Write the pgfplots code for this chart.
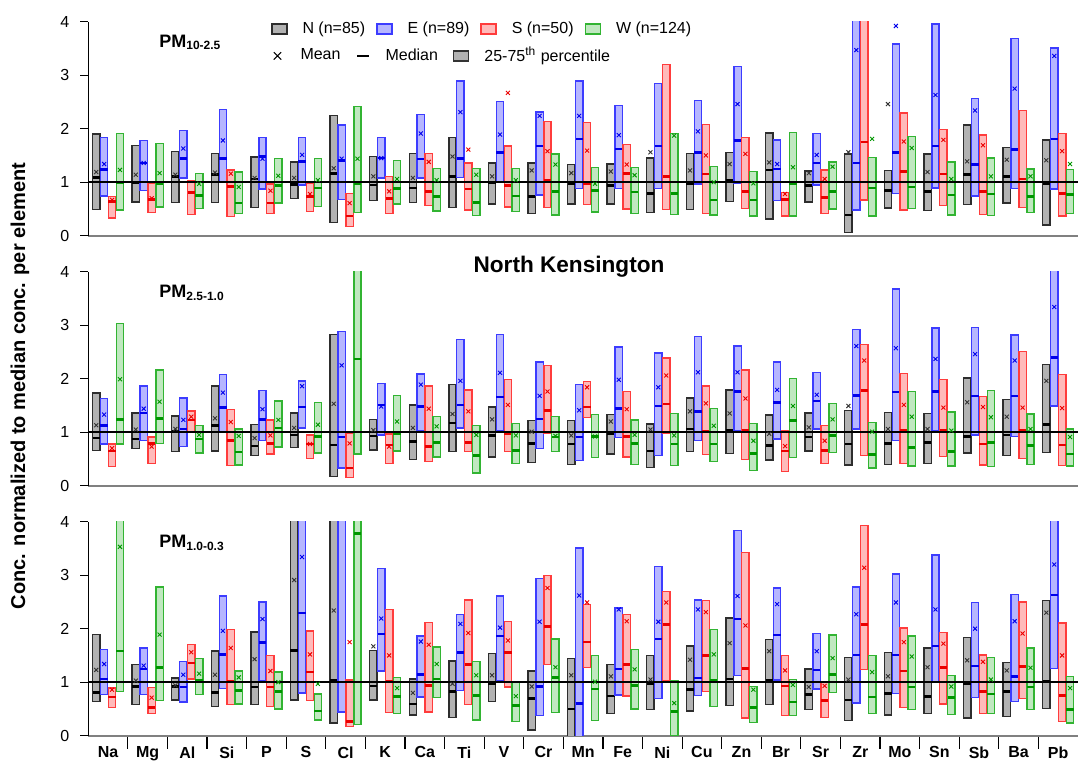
\documentclass[border=0pt]{standalone}
\usepackage{pgfplots}
\pgfplotsset{compat=1.18}
\usepackage{pgfplotstable}
\usepgfplotslibrary{statistics}
\usepackage{fontspec}
\setmainfont{Liberation Sans}
\setsansfont{Liberation Sans}

\definecolor{Nfill}{RGB}{178,178,178}
\definecolor{Nline}{RGB}{45,45,45}
\definecolor{Nmed}{RGB}{0,0,0}
\definecolor{Efill}{RGB}{182,182,255}
\definecolor{Eline}{RGB}{60,60,255}
\definecolor{Emed}{RGB}{0,0,235}
\definecolor{Sfill}{RGB}{255,186,186}
\definecolor{Sline}{RGB}{255,60,60}
\definecolor{Smed}{RGB}{235,0,0}
\definecolor{Wfill}{RGB}{192,232,192}
\definecolor{Wline}{RGB}{50,180,50}
\definecolor{Wmed}{RGB}{0,150,0}

% ---------- PM10-2.5 ----------
\pgfplotstableread{
i q1 q3 med mean
0 0.49 1.90 1.09 1.19
1 0.63 1.69 1.00 1.14
2 0.62 1.57 1.11 1.14
3 0.62 1.54 1.14 1.18
4 0.53 1.47 1.06 1.08
5 0.70 1.38 0.96 1.08
6 0.25 2.25 1.16 1.26
7 0.66 1.48 0.95 1.11
8 0.62 1.54 0.89 1.08
9 0.53 1.84 1.11 1.48
10 0.59 1.36 1.00 1.11
11 0.42 1.36 0.73 1.22
12 0.59 1.33 0.97 1.17
13 0.59 1.34 0.94 1.20
14 0.43 1.45 0.79 1.56
15 0.49 1.54 0.98 1.22
16 0.64 1.56 1.04 1.34
17 0.31 1.92 1.23 1.37
18 0.63 1.21 0.94 1.17
19 0.06 1.53 0.39 1.56
20 0.52 1.22 0.84 2.46
21 0.47 1.53 0.83 1.19
22 0.58 2.07 1.14 1.39
23 0.61 1.65 1.11 1.42
24 0.20 1.79 0.98 1.41
}\tAN
\pgfplotstableread{
i q1 q3 med mean
0 0.74 1.83 1.24 1.34
1 0.85 1.78 1.36 1.36
2 1.08 1.97 1.44 1.63
3 1.00 2.36 1.44 1.78
4 0.87 1.84 1.48 1.44
5 0.95 1.84 1.39 1.51
6 0.68 2.07 1.41 1.44
7 1.08 1.83 1.45 1.45
8 1.08 2.26 1.43 1.91
9 1.09 2.89 1.44 2.31
10 1.00 2.51 1.56 1.89
11 0.76 2.31 1.68 2.24
12 0.88 2.89 1.81 2.24
13 0.88 2.43 1.62 1.88
14 0.88 2.85 1.68 nan
15 0.97 2.53 1.56 1.95
16 0.98 3.16 1.78 2.46
17 0.66 1.79 1.25 1.34
18 0.95 1.91 1.36 1.51
19 0.48 4.20 1.36 3.47
20 0.79 3.58 1.56 3.92
21 0.89 3.96 1.68 2.63
22 0.74 2.56 1.33 2.34
23 0.88 3.69 1.61 2.75
24 0.87 3.51 1.81 3.36
}\tAE
\pgfplotstableread{
i q1 q3 med mean
0 0.33 0.73 0.64 0.67
1 0.43 0.98 0.68 0.70
2 0.40 1.03 0.81 nan
3 0.36 1.23 0.92 1.16
4 0.41 0.97 0.61 0.84
5 0.45 0.98 0.73 0.78
6 0.17 0.79 0.37 0.61
7 0.41 1.11 0.69 0.83
8 0.56 1.54 0.83 1.38
9 0.48 1.36 0.87 1.61
10 0.54 1.68 0.94 2.67
11 0.53 2.13 1.04 1.58
12 0.58 2.12 0.97 1.59
13 0.50 1.71 1.16 1.33
14 0.49 3.20 1.11 nan
15 0.41 2.08 1.15 1.50
16 0.51 1.83 0.83 1.53
17 0.37 0.81 0.68 0.78
18 0.41 1.23 0.71 1.06
19 0.67 4.20 1.75 nan
20 0.48 2.29 1.20 1.76
21 0.56 1.99 1.15 1.79
22 0.40 1.88 0.83 1.69
23 0.53 2.34 1.06 nan
24 0.37 1.91 0.79 1.58
}\tAS
\pgfplotstableread{
i q1 q3 med mean
0 0.48 1.91 1.00 1.23
1 0.54 1.72 0.97 1.17
2 0.51 1.16 0.75 0.97
3 0.41 1.19 0.61 0.91
4 0.61 1.44 0.94 1.12
5 0.55 1.44 0.89 1.04
6 0.43 2.42 0.98 1.44
7 0.59 1.41 0.88 1.06
8 0.46 1.26 0.73 1.04
9 0.38 1.26 0.62 1.14
10 0.45 1.26 0.74 1.04
11 0.39 1.53 0.83 1.33
12 0.44 1.28 0.84 0.97
13 0.42 1.28 0.82 1.13
14 0.40 1.91 0.79 1.87
15 0.39 1.29 0.67 1.00
16 0.37 1.20 0.67 0.98
17 0.37 1.93 0.97 1.28
18 0.50 1.38 0.83 1.29
19 0.37 1.46 0.89 1.81
20 0.51 1.85 0.91 1.64
21 0.39 1.38 0.76 1.06
22 0.38 1.45 0.78 1.11
23 0.43 1.25 0.73 1.11
24 0.41 1.24 0.77 1.34
}\tAW

% ---------- PM2.5-1.0 ----------
\pgfplotstableread{
i q1 q3 med mean
0 0.66 1.73 0.89 1.13
1 0.69 1.36 0.87 1.05
2 0.64 1.30 1.01 1.06
3 0.65 1.86 1.13 1.26
4 0.56 1.14 0.74 0.89
5 0.71 1.36 0.95 1.08
6 0.17 2.83 0.76 1.53
7 0.67 1.24 0.93 1.04
8 0.49 1.51 0.83 1.08
9 0.64 1.89 1.17 1.34
10 0.54 1.47 0.94 1.24
11 0.43 1.22 0.79 1.01
12 0.40 1.22 0.78 0.94
13 0.59 1.33 0.97 1.20
14 0.34 1.15 0.65 1.05
15 0.64 1.64 1.06 1.39
16 0.60 1.79 1.03 1.35
17 0.48 1.32 0.75 0.97
18 0.65 1.36 0.91 1.09
19 0.39 1.41 0.78 1.49
20 0.40 1.37 0.79 1.06
21 0.41 1.35 0.81 1.06
22 0.61 2.01 0.92 1.56
23 0.56 1.61 0.95 1.29
24 0.62 2.27 1.14 1.96
}\tBN
\pgfplotstableread{
i q1 q3 med mean
0 0.78 1.63 1.13 1.33
1 0.84 1.86 1.36 1.44
2 0.73 1.64 1.06 1.23
3 1.01 2.08 1.46 1.74
4 0.84 1.78 1.24 1.43
5 1.08 1.96 1.47 1.86
6 0.33 2.88 0.91 2.25
7 0.95 1.91 1.51 1.48
8 1.03 2.09 1.48 1.89
9 1.08 2.73 1.51 1.96
10 1.03 2.83 1.66 2.11
11 0.70 2.31 1.25 1.68
12 0.47 1.89 0.91 1.41
13 0.90 2.59 1.44 1.98
14 0.56 2.48 1.49 1.84
15 0.84 2.79 1.39 2.12
16 1.03 2.61 1.76 2.12
17 0.87 2.31 1.56 1.79
18 1.06 2.12 1.58 1.70
19 1.06 2.92 1.69 2.61
20 0.85 3.68 1.75 2.57
21 1.03 2.95 1.76 2.37
22 0.95 2.96 1.68 2.46
23 0.92 2.82 1.68 2.34
24 1.49 4.20 2.40 3.34
}\tBE
\pgfplotstableread{
i q1 q3 med mean
0 0.36 0.78 0.65 0.70
1 0.41 0.91 0.79 0.73
2 1.01 1.40 1.23 1.29
3 0.38 1.42 0.84 1.19
4 0.59 1.23 0.79 0.94
5 0.51 0.95 0.78 0.78
6 0.15 0.98 0.33 0.79
7 0.41 0.97 0.76 0.73
8 0.45 1.86 0.73 1.44
9 0.64 1.79 0.81 1.39
10 0.64 1.99 0.98 1.51
11 0.98 2.25 1.41 1.76
12 1.28 1.95 1.47 1.84
13 0.54 1.76 0.92 1.43
14 0.98 2.39 1.53 2.06
15 0.58 1.86 1.01 1.54
16 0.49 2.16 1.04 1.63
17 0.26 1.03 0.65 0.74
18 0.41 1.12 0.66 0.84
19 0.56 2.64 1.78 2.34
20 0.42 2.10 1.04 1.51
21 0.55 1.99 1.04 1.46
22 0.39 1.67 0.78 1.47
23 0.51 2.51 1.04 1.46
24 0.38 2.08 0.76 1.45
}\tBS
\pgfplotstableread{
i q1 q3 med mean
0 0.78 3.03 1.24 1.99
1 0.79 2.16 1.26 1.57
2 0.61 1.13 0.87 0.95
3 0.39 1.06 0.63 0.93
4 0.72 1.58 1.08 1.23
5 0.61 1.56 0.92 1.14
6 0.59 4.20 2.37 nan
7 0.65 1.69 0.98 1.20
8 0.54 1.29 0.81 1.11
9 0.24 1.13 0.56 0.95
10 0.41 1.16 0.66 0.94
11 0.64 1.29 0.91 0.93
12 0.53 1.33 0.92 0.92
13 0.40 1.23 0.79 0.95
14 0.38 1.35 0.78 0.94
15 0.45 1.44 0.78 1.12
16 0.28 1.16 0.60 0.84
17 0.53 2.00 1.22 1.49
18 0.62 1.54 0.94 1.24
19 0.33 1.18 0.58 1.01
20 0.37 1.76 0.71 1.29
21 0.37 1.38 0.64 1.03
22 0.36 1.78 0.81 1.28
23 0.40 1.34 0.75 1.06
24 0.37 1.06 0.59 0.91
}\tBW

% ---------- PM1.0-0.3 ----------
\pgfplotstableread{
i q1 q3 med mean
0 0.64 1.89 0.81 1.23
1 0.58 1.33 0.92 1.03
2 0.67 1.08 0.92 0.94
3 0.55 1.58 0.81 1.14
4 0.58 1.94 0.91 1.43
5 0.67 4.20 1.59 2.91
6 0.24 4.20 1.03 2.34
7 0.67 1.59 0.93 1.67
8 0.39 1.06 0.59 0.80
9 0.34 1.40 0.83 0.97
10 0.64 1.54 0.97 1.13
11 0.11 1.21 0.70 0.92
12 -0.10 1.44 0.50 1.13
13 0.41 1.33 0.74 1.11
14 0.49 1.50 0.97 1.05
15 0.46 1.68 0.86 1.42
16 0.56 2.20 1.06 1.73
17 0.58 1.80 1.03 1.58
18 0.49 1.25 0.77 0.91
19 0.28 1.46 0.67 1.05
20 0.39 1.55 0.79 1.11
21 0.42 1.64 0.73 1.28
22 0.33 1.84 0.97 1.41
23 0.36 1.37 0.83 1.22
24 0.51 2.53 1.02 2.30
}\tCN
\pgfplotstableread{
i q1 q3 med mean
0 0.77 1.61 1.06 1.34
1 0.77 1.64 1.25 1.31
2 0.63 1.39 0.91 1.14
3 0.88 2.61 1.52 1.96
4 1.02 2.50 1.74 2.18
5 0.80 4.20 2.29 3.34
6 0.44 4.50 4.30 nan
7 1.21 3.13 1.90 2.19
8 0.72 1.86 1.14 1.76
9 0.84 2.27 1.56 2.09
10 1.02 2.61 1.86 2.02
11 0.38 2.94 0.92 2.13
12 -0.10 3.51 0.60 2.62
13 0.76 2.39 1.25 2.36
14 0.70 3.16 1.81 2.13
15 0.75 2.54 1.08 2.36
16 1.13 3.84 2.18 2.61
17 1.04 2.76 1.88 2.46
18 0.87 1.91 1.23 1.58
19 0.61 2.78 1.51 2.27
20 0.79 3.02 1.51 2.49
21 1.00 3.38 1.68 2.36
22 0.71 2.49 1.30 2.00
23 0.64 2.64 1.11 2.14
24 1.26 4.20 2.63 3.20
}\tCE
\pgfplotstableread{
i q1 q3 med mean
0 0.53 0.89 0.72 0.86
1 0.42 0.90 0.53 0.71
2 1.06 1.70 1.36 1.56
3 0.58 1.98 1.02 1.64
4 0.55 1.50 0.91 1.21
5 0.66 1.96 1.19 1.52
6 0.17 1.04 0.26 1.75
7 0.43 2.36 1.02 1.50
8 0.44 2.12 0.94 1.70
9 0.58 2.54 1.33 1.92
10 0.91 2.14 1.56 1.78
11 1.33 3.00 2.04 2.76
12 1.27 2.45 1.75 2.49
13 0.74 2.27 1.33 2.14
14 1.03 2.70 2.08 2.49
15 0.83 2.53 1.50 2.31
16 0.33 3.43 1.26 2.06
17 0.38 1.50 0.93 1.22
18 0.34 1.00 0.66 0.93
19 1.24 3.93 2.08 3.14
20 0.53 2.01 1.21 1.75
21 0.59 1.93 1.27 1.72
22 0.41 1.51 0.83 1.38
23 0.69 2.50 1.29 1.91
24 0.26 2.11 0.75 1.50
}\tCS
\pgfplotstableread{
i q1 q3 med mean
0 0.83 4.20 1.58 3.53
1 0.66 2.78 1.28 1.89
2 0.77 1.44 1.03 1.16
3 0.59 1.21 0.84 1.09
4 0.50 1.19 0.83 1.00
5 0.29 0.78 0.46 0.97
6 0.21 4.20 3.78 nan
7 0.41 1.09 0.73 0.89
8 0.71 1.66 1.06 1.34
9 0.29 1.39 0.75 1.13
10 0.27 1.00 0.56 0.74
11 0.43 1.81 1.09 1.28
12 0.28 1.50 0.87 1.01
13 0.50 1.61 0.94 1.24
14 0.00 1.02 0.45 0.61
15 0.55 1.98 1.03 1.52
16 0.25 0.92 0.53 0.86
17 0.38 1.05 0.63 0.95
18 0.81 1.88 1.14 1.45
19 0.41 1.50 0.72 1.19
20 0.49 1.86 0.91 1.48
21 0.40 1.13 0.71 0.92
22 0.41 1.46 0.78 1.05
23 0.49 1.64 0.91 1.27
24 0.24 1.11 0.49 0.89
}\tCW

\pgfplotsset{
  bxbase/.style={line width=0.7pt, boxplot/draw direction=y, boxplot/box extend=0.185, boxplot/whisker extend=0},
  bxN/.style={bxbase, draw=Nline, fill=Nfill, boxplot/every median/.style={draw=Nmed, line width=1.3pt}},
  bxE/.style={bxbase, draw=Eline, fill=Efill, boxplot/every median/.style={draw=Emed, line width=1.3pt}},
  bxS/.style={bxbase, draw=Sline, fill=Sfill, boxplot/every median/.style={draw=Smed, line width=1.3pt}},
  bxW/.style={bxbase, draw=Wline, fill=Wfill, boxplot/every median/.style={draw=Wmed, line width=1.3pt}},
  mk/.style={only marks, mark=x, mark size=1.4pt, mark options={line width=0.45pt}},
  panel/.style={
    scale only axis, width=494.85pt, height=107pt,
    xmin=-0.5, xmax=24.5, ymin=0, ymax=4,
    axis x line*=bottom, axis y line*=left,
    x axis line style={draw=black!50, line width=1pt},
    y axis line style={draw=black, line width=0.6pt},
    ytick={0,1,2,3,4}, xtick=\empty,
    tick align=outside, major tick length=4pt, minor tick length=6.5pt,
    tick style={black, line width=0.6pt},
    yticklabel style={font=\fontsize{8}{9}\selectfont, xshift=-2pt},
    /pgf/number format/assume math mode=true,
  },
  legbox/.style={legend image code/.code={\draw[##1] (0pt,-2.5pt) rectangle (7.5pt,2.5pt);}},
  legmark/.style={legend image code/.code={\path[draw=none,fill=none] (0pt,-2.5pt) rectangle (7.5pt,2.5pt); \draw[##1] plot coordinates {(3.5pt,0pt)};}},
  legdash/.style={legend image code/.code={\path[draw=none,fill=none] (0pt,-2.5pt) rectangle (7.5pt,2.5pt); \draw[##1] (0.8pt,0pt) -- (6.5pt,0pt);}},
  legaxis/.style={
    at={(44.15pt,263.15pt)}, anchor=south west,
    scale only axis, width=494.85pt, height=107pt, hide axis,
    xmin=0, xmax=1, ymin=0, ymax=1,
    legend cell align=left,
  },
}

\newcommand{\boxseries}[3]{%
  \pgfplotstablegetrowsof{#1}%
  \pgfmathtruncatemacro{\bxlast}{\pgfplotsretval-1}%
  \pgfplotsforeachungrouped \ii in {0,...,\bxlast}{%
    \pgfplotstablegetelem{\ii}{q1}\of{#1}\let\vqa=\pgfplotsretval
    \pgfplotstablegetelem{\ii}{q3}\of{#1}\let\vqc=\pgfplotsretval
    \pgfplotstablegetelem{\ii}{med}\of{#1}\let\vmd=\pgfplotsretval
    \pgfmathsetmacro{\vpos}{\ii#2}%
    \edef\doplot{\noexpand\addplot[#3, boxplot prepared={draw position=\vpos, lower whisker=\vqa, lower quartile=\vqa, median=\vmd, upper quartile=\vqc, upper whisker=\vqc}] coordinates {};}%
    \doplot
  }%
}
\newcommand{\panelplots}[4]{%
  \boxseries{#1}{-0.3}{bxN}%
  \boxseries{#2}{-0.1}{bxE}%
  \boxseries{#3}{+0.1}{bxS}%
  \boxseries{#4}{+0.3}{bxW}%
  \addplot[black, line width=1.2pt] coordinates {(-0.5,1) (24.5,1)};
  \addplot[mk, black!80] table[x expr=\thisrow{i}-0.3, y=mean] {#1};
  \addplot[mk, Emed] table[x expr=\thisrow{i}-0.1, y=mean] {#2};
  \addplot[mk, Smed] table[x expr=\thisrow{i}+0.1, y=mean] {#3};
  \addplot[mk, Wmed] table[x expr=\thisrow{i}+0.3, y=mean] {#4};
}

\begin{document}
\begin{tikzpicture}
% panel 1
\begin{axis}[panel, at={(44.15pt,263.15pt)}, anchor=south west]
\panelplots{\tAN}{\tAE}{\tAS}{\tAW}
\end{axis}
% panel 2
\begin{axis}[panel, at={(44.15pt,138.15pt)}, anchor=south west]
\panelplots{\tBN}{\tBE}{\tBS}{\tBW}
\end{axis}
% panel 3
\begin{axis}[panel, at={(44.15pt,13.15pt)}, anchor=south west,
  xtick={0,...,24},
  xticklabels={Na,Mg,Al,Si,P,S,Cl,K,Ca,Ti,V,Cr,Mn,Fe,Ni,Cu,Zn,Br,Sr,Zr,Mo,Sn,Sb,Ba,Pb},
  xticklabel style={font=\bfseries\fontsize{8}{9}\selectfont, yshift=2pt},
  major x tick style={draw=none},
  minor xtick={0.5,1.5,...,23.5}]
\panelplots{\tCN}{\tCE}{\tCS}{\tCW}
\end{axis}
% legend row 1
\begin{axis}[legaxis, legend columns=4,
  legend style={draw=none, fill=none, inner sep=0pt, at={(0.1843,0.966)}, anchor=west,
    font=\fontsize{8}{9}\selectfont, nodes={inner sep=0pt},
    /tikz/every odd column/.append style={column sep=7.5pt},
    /tikz/every even column/.append style={column sep=5.5pt}}]
\addlegendimage{legbox, draw=Nline, fill=Nfill, line width=0.7pt}
\addlegendentry{N (n=85)}
\addlegendimage{legbox, draw=Eline, fill=Efill, line width=0.7pt}
\addlegendentry{E (n=89)}
\addlegendimage{legbox, draw=Sline, fill=Sfill, line width=0.7pt}
\addlegendentry{S (n=50)}
\addlegendimage{legbox, draw=Wline, fill=Wfill, line width=0.7pt}
\addlegendentry{W (n=124)}
\end{axis}
% legend row 2
\begin{axis}[legaxis, legend columns=3,
  legend style={draw=none, fill=none, inner sep=0pt, at={(0.1837,0.84)}, anchor=west,
    font=\fontsize{8}{9}\selectfont, nodes={inner sep=0pt},
    /tikz/every odd column/.append style={column sep=7.5pt},
    /tikz/every even column/.append style={column sep=7.5pt}}]
\addlegendimage{legmark, black, mark=x, mark size=2.6pt, mark options={line width=0.5pt}}
\addlegendentry{Mean}
\addlegendimage{legdash, black, line width=1.4pt}
\addlegendentry{Median}
\addlegendimage{legbox, draw=black!80, fill=Nfill, line width=0.7pt}
\addlegendentry{25-75\textsuperscript{th} percentile}
\end{axis}
% labels
\node[rotate=90, font=\bfseries\fontsize{10}{12}\selectfont] at (10pt,188pt) {Conc. normalized to median conc. per element};
\node[anchor=base, font=\bfseries\fontsize{11.3}{13}\selectfont] at (284.5pt,244.85pt) {North Kensington};
\node[anchor=base west, inner sep=0pt, font=\bfseries\fontsize{9}{10}\selectfont] at (79.5pt,357.15pt) {PM\textsubscript{10-2.5}};
\node[anchor=base west, inner sep=0pt, font=\bfseries\fontsize{9}{10}\selectfont] at (79.5pt,232pt) {PM\textsubscript{2.5-1.0}};
\node[anchor=base west, inner sep=0pt, font=\bfseries\fontsize{9}{10}\selectfont] at (79.5pt,107pt) {PM\textsubscript{1.0-0.3}};
\pgfresetboundingbox
\useasboundingbox (0pt,0pt) rectangle (539pt,381pt);
\end{tikzpicture}
\end{document}
